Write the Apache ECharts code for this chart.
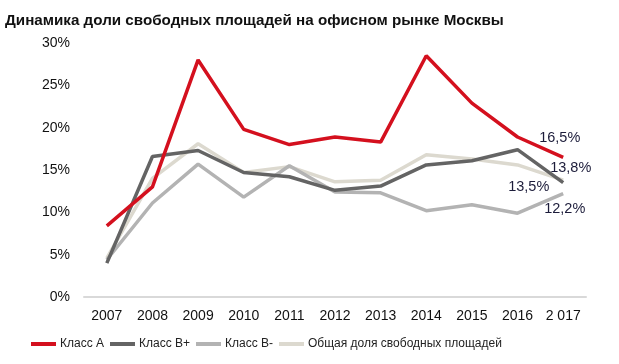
<!DOCTYPE html>
<html><head><meta charset="utf-8">
<script src="https://cdn.jsdelivr.net/npm/echarts@6/dist/echarts.min.js"></script>
<style>html,body{margin:0;padding:0;background:#fff}#c{width:619px;height:364px}</style>
</head><body><div id="c"></div>
<script>
const categories = ['2007','2008','2009','2010','2011','2012','2013','2014','2015','2016','2 017'];
const classA = [8.4,13.0,28.0,19.8,18.0,18.9,18.3,28.5,22.9,18.9,16.5];
const classBplus = [4.0,16.6,17.3,14.7,14.2,12.6,13.1,15.6,16.1,17.4,13.5];
const classBminus = [4.4,11.1,15.7,11.8,15.5,12.4,12.3,10.2,10.9,9.9,12.2];
const total = [4.6,14.0,18.1,14.7,15.4,13.6,13.8,16.8,16.3,15.6,13.8];
const yTicks = [0,5,10,15,20,25,30];

const labelColor = '#1c1c3a';
const lineFont = 'Liberation Sans';
function endLabel(offset) {
  return {show: true, color: labelColor, fontSize: 14.5, fontFamily: lineFont, distance: 0, offset,
    formatter: p => String(p.value).replace('.', ',') + '%'};
}
const chart = echarts.init(document.getElementById('c'));
function s(name, data, color, z, off) {
  return {name, type: 'line', data, symbol: 'none', z,
    lineStyle: {color, width: 3.5}, itemStyle: {color}, emphasis: {disabled: true},
    endLabel: endLabel(off)};
}
chart.setOption({
  animation: false,
  title: {text: 'Динамика доли свободных площадей на офисном рынке Москвы', left: 0, top: 8,
    textStyle: {fontFamily: lineFont, fontSize: 15.2, fontWeight: 'bold', color: '#111'}},
  grid: {left: 84, right: 33, top: 43, height: 254},
  legend: {bottom: 9, left: 26, itemWidth: 25, itemHeight: 4, itemGap: 6,
    textStyle: {fontFamily: lineFont, fontSize: 12, color: '#222', padding: [0,0,0,-1]},
    data: ['Класс А','Класс В+','Класс В-','Общая доля свободных площадей'].map(n => ({name: n, icon: 'rect'}))},
  xAxis: {type: 'category', data: categories, boundaryGap: true,
    axisLine: {lineStyle: {color: '#d9d9d9', width: 2}}, axisTick: {show: false},
    axisLabel: {fontFamily: lineFont, fontSize: 14, color: '#111', margin: 12}},
  yAxis: {type: 'value', min: yTicks[0], max: yTicks[yTicks.length-1], interval: 5,
    axisLine: {show: false}, axisTick: {show: false}, splitLine: {show: false},
    axisLabel: {fontFamily: lineFont, fontSize: 14, color: '#111', margin: 14, formatter: v => v + '%'}},
  series: [
    s('Общая доля свободных площадей', total, '#dcd9cf', 1, [-13, -12]),
    s('Класс В-', classBminus, '#b3b3b3', 2, [-19, 15]),
    s('Класс В+', classBplus, '#646464', 3, [-55, 4]),
    s('Класс А', classA, '#d4101e', 4, [-24, -19])
  ]
});
</script></body></html>
